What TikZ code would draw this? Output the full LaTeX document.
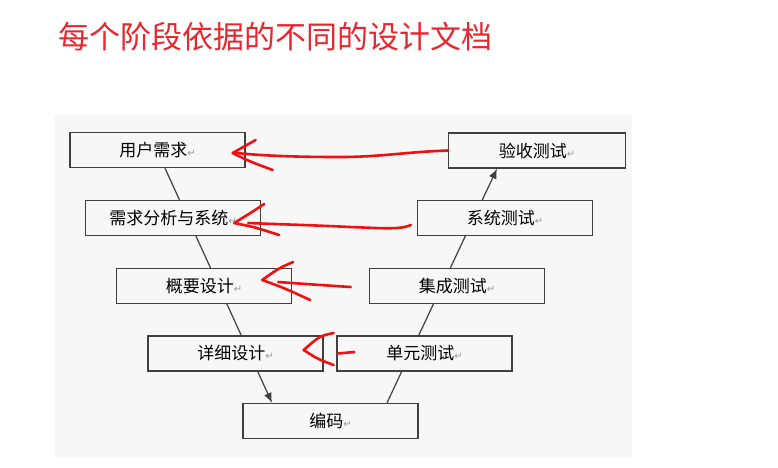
\documentclass[tikz,border=0pt]{standalone}
\usepackage{fontspec}
\setmainfont{Noto Sans CJK SC}
\newfontfamily\retfont{DejaVu Sans}
\usetikzlibrary{arrows.meta, backgrounds, calc}
\definecolor{panelgray}{HTML}{F7F7F7}
\definecolor{boxline}{HTML}{404040}
\definecolor{titlered}{HTML}{E8262E}
\definecolor{penred}{HTML}{F01010}
\newcommand{\ret}{{\retfont\fontsize{10}{10}\selectfont\textcolor{black!40}{↵}}}

\begin{document}
\begin{tikzpicture}[x=1pt, y=-1pt,
    box/.style={rectangle, draw=boxline, line width=1.3pt, fill=panelgray, minimum width=175pt, minimum height=35pt, inner sep=0pt, font=\fontsize{17}{20}\selectfont},
    arrow/.style={-{Latex[length=10pt,width=8pt]}, line width=1.2pt, draw=boxline},
    pen/.style={penred, line width=2.6pt, line cap=round, line join=round}
]
    \useasboundingbox (0,0) rectangle (778,467);
    \node[text=titlered, font=\fontsize{31}{31}\selectfont] (title) at (275,37) {每个阶段依据的不同的设计文档};
    \begin{scope}[on background layer]
        \fill[panelgray] (55,115) rectangle (632,457);
    \end{scope}

    % left side of the V
    \node[box] (req) at (157.5,150) {用户需求\ret};
    \node[box] (sysreq) at (173,218) {需求分析与系统\ret};
    \node[box] (hld) at (204,286) {概要设计\ret};
    \node[box] (lld) at (235.5,353.5) {详细设计\ret};
    \node[box] (code) at (330.5,421) {编码\ret};
    % right side of the V
    \node[box] (ut) at (424.5,353.5) {单元测试\ret};
    \node[box] (it) at (457,286) {集成测试\ret};
    \node[box] (st) at (505,218) {系统测试\ret};
    \node[box, minimum width=177pt] (acc) at (537,150.5) {验收测试\ret};

    \begin{scope}[on background layer]
        \draw[arrow] ([xshift=7.5pt]req.south) -- ([xshift=-58.5pt]code.north);
        \draw[arrow] ([xshift=56.5pt]code.north) -- ([xshift=-40pt]acc.south);
    \end{scope}

    % red hand-drawn marks
    \coordinate (tip1) at ($(req.east)+(-13,3)$);
    \coordinate (tip2) at ($(sysreq.east)+(-27,5)$);
    \coordinate (tip3) at ($(hld.east)+(-30,-6)$);
    \coordinate (tip4) at ($(lld.east)+(-20,-3.5)$);

    \draw[pen] (acc.west) .. controls (405,152) and (380,157) .. (340,157) .. controls (300,157) and (265,156) .. ($(tip1)+(4,0)$);
    \draw[pen] ($(tip1)+(23,-13)$) -- (tip1) .. controls +(16,8) .. +(40,17);

    \draw[pen] ($(st.west)+(-6,7)$) .. controls (400,230) and (380,228) .. (350,227) .. controls (310,225) and (270,224) .. ($(tip2)+(14,0)$);
    \draw[pen] ($(tip2)+(30,-19)$) .. controls +(-12,8) .. (tip2) .. controls +(20,4) .. +(45,12);

    \draw[pen] ($(it.west)+(-18,1)$) .. controls (320,285) .. ($(tip3)+(16,2)$);
    \draw[pen] ($(tip3)+(31,-18)$) .. controls +(-14,6) .. (tip3) .. controls +(22,8) .. +(48,20);

    \draw[pen] ($(ut.west)+(18,-1.5)$) -- ($(ut.west)+(1,0)$);
    \draw[pen] ($(tip4)+(30,-17)$) .. controls +(-14,3) .. (tip4) .. controls +(14,9) .. +(30,15);
\end{tikzpicture}
\end{document}
